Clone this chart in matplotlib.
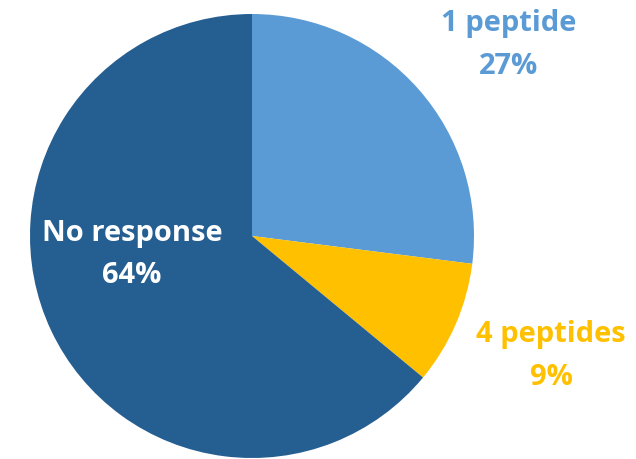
import matplotlib.pyplot as plt

labels = ["1 peptide", "4 peptides", "No response"]
values = [27, 9, 64]
colors = ["#5B9BD5", "#FFC000", "#255E91"]
label_colors = ["#5B9BD5", "#FFC000", "white"]
# label anchor positions (axes data coords, pie radius = 1)
label_xy = [(1.155, 0.865), (1.347, -0.536), (-0.54, -0.08)]

W, H = 636, 460
cx, cy, r = 252, 237, 222

fig = plt.figure(figsize=(W / 100, H / 100), dpi=100)
ax = fig.add_axes([(cx - r) / W, (H - cy - r) / H, 2 * r / W, 2 * r / H])
ax.pie(values, colors=colors, startangle=90, counterclock=False, radius=1,
       wedgeprops=dict(linewidth=0))
ax.set_xlim(-1, 1)
ax.set_ylim(-1, 1)
ax.set_aspect("equal")

for lab, v, c, (x, y) in zip(labels, values, label_colors, label_xy):
    ax.text(x, y, f"{lab}\n{v}%", color=c, ha="center", va="center",
            fontsize=21, fontweight="bold", family="Open Sans",
            linespacing=1.6, clip_on=False)

fig.savefig("out.png", dpi=100)
